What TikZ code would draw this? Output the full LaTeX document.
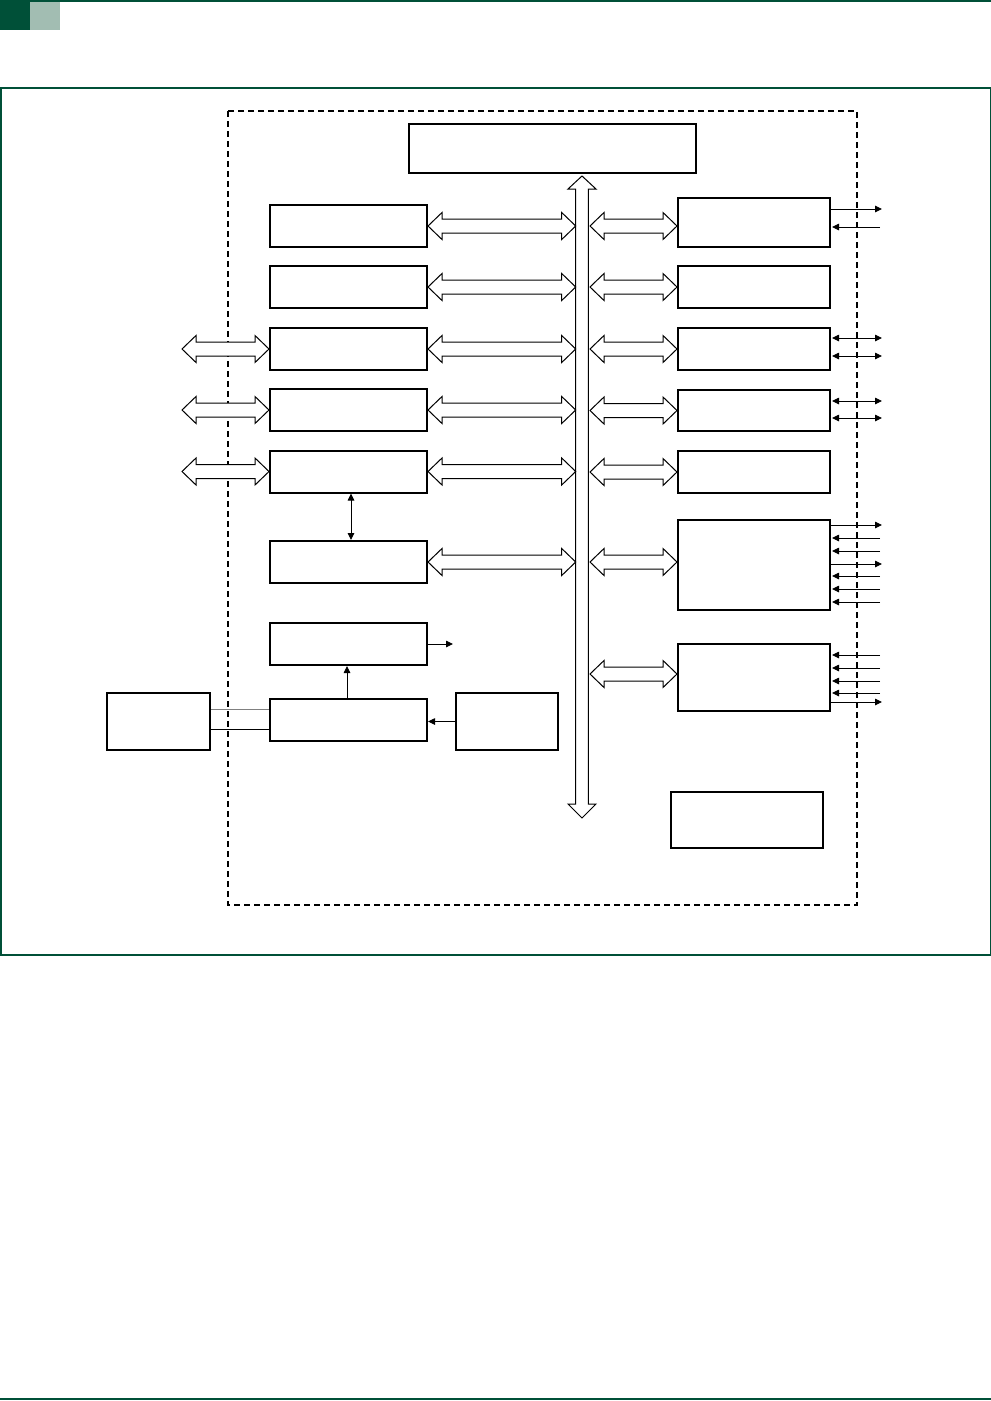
\documentclass[tikz,border=0pt]{standalone}
\usetikzlibrary{calc,arrows.meta}
\definecolor{hdark}{RGB}{0,80,56}
\definecolor{hlight}{RGB}{162,189,178}
\tikzset{
  blk/.style={draw=black, line width=2pt, fill=white, rectangle, inner sep=0pt},
  hollow/.style={draw=black, line width=1pt, fill=white, line join=miter},
  sig/.style={line width=0.9pt, -{Triangle[length=7pt,width=6.5pt]}},
  sigb/.style={line width=0.9pt, {Triangle[length=7pt,width=6.5pt]}-{Triangle[length=7pt,width=6.5pt]}},
  wire/.style={line width=0.9pt}
}
\newcommand{\hollowH}[2]{\draw[hollow] let \p1=(#1), \p2=(#2) in
  (\x1,\y1) -- (\x1+14pt,\y1+13.5pt) -- (\x1+14pt,\y1+7pt) -- (\x2-14pt,\y1+7pt) -- (\x2-14pt,\y1+13.5pt)
  -- (\x2,\y1) -- (\x2-14pt,\y1-13.5pt) -- (\x2-14pt,\y1-7pt) -- (\x1+14pt,\y1-7pt) -- (\x1+14pt,\y1-13.5pt) -- cycle;}
\begin{document}
\begin{tikzpicture}[x=1pt,y=-1pt]
\useasboundingbox (0,0) rectangle (991,1401);
% header
\fill[hdark] (0,0) rectangle (30,30);
\fill[hlight] (30,0) rectangle (60,30);
\draw[hdark, line width=1.5pt] (0,0.75) -- (991,0.75);
\draw[hdark, line width=1.5pt] (0.75,87.75) rectangle (990.25,955);
\draw[hdark, line width=2pt] (0,1399) -- (991,1399);
% dashed chip boundary
\draw[line width=1.1pt, dash pattern=on 6pt off 4pt] (228,111) rectangle (857,905);
% top box
\node[blk, minimum width=287pt, minimum height=49pt] (T) at (552.5,148.5) {};
% left column
\foreach \bx/\yc in {L1/226, L2/287, L3/349, L4/410, L5/471.5, L6/562, L7/644, L8/720}
  \node[blk, minimum width=157pt, minimum height=42pt] (\bx) at (348.5,\yc) {};
% right column
\node[blk, minimum width=152pt, minimum height=49pt] (R1) at (754,222.5) {};
\node[blk, minimum width=152pt, minimum height=42pt] (R2) at (754,287) {};
\node[blk, minimum width=152pt, minimum height=42pt] (R3) at (754,349) {};
\node[blk, minimum width=152pt, minimum height=41pt] (R4) at (754,410.5) {};
\node[blk, minimum width=152pt, minimum height=42pt] (R5) at (754,472) {};
\node[blk, minimum width=152pt, minimum height=90pt] (R6) at (754,565) {};
\node[blk, minimum width=152pt, minimum height=67pt] (R7) at (754,677.5) {};
\node[blk, minimum width=152pt, minimum height=56pt] (R8) at (747,820) {};
% outside boxes
\node[blk, minimum width=103pt, minimum height=57pt] (LX) at (158.5,721.5) {};
\node[blk, minimum width=102pt, minimum height=57pt] (RX) at (507,721.5) {};
% bus
\coordinate (busTop) at (582,176);
\coordinate (busBot) at (582,818);
\coordinate (busW) at (575.7,0);
\coordinate (busE) at (590,0);
\coordinate (extL) at (182,0);
\draw[hollow] let \p1=(busTop), \p2=(busBot) in
  (\x1,\y1) -- (\x1+14pt,\y1-13pt) -- (\x1+6.3pt,\y1-13pt) -- (\x1+6.3pt,\y2+14pt) -- (\x1+14pt,\y2+14pt)
  -- (\x2,\y2) -- (\x1-14pt,\y2+14pt) -- (\x1-6.3pt,\y2+14pt) -- (\x1-6.3pt,\y1-13pt) -- (\x1-14pt,\y1-13pt) -- cycle;
% left to bus
\foreach \bx in {L1,L2,L3,L4,L5,L6}
  \hollowH{\bx.east}{\bx.east -| busW};
% external left
\foreach \bx in {L3,L4,L5}
  \hollowH{\bx.west -| extL}{\bx.west};
% bus to right
\hollowH{busE |- L1.east}{R1.west |- L1.east};
\foreach \bx in {R2,R3,R4,R5}
  \hollowH{busE |- \bx.west}{\bx.west};
\hollowH{busE |- L6.east}{R6.west |- L6.east};
\coordinate (r7y) at (0,674);
\hollowH{busE |- r7y}{R7.west |- r7y};
% thin connections
\draw[sigb] ($(L5.south)+(2.5,0)$) -- ($(L6.north)+(2.5,0)$);
\coordinate (l7out) at (453,644);
\draw[sig] (L7.east) -- (l7out);
\draw[sig] ($(L8.north)+(-1.5,0)$) -- ($(L7.south)+(-1.5,0)$);
\draw[sig] (RX.west) -- (RX.west -| L8.east);
\draw[wire, gray] ($(LX.east)+(0,-12.5)$) -- ($(LX.east -| L8.west)+(0,-12.5)$);
\draw[wire] ($(LX.east)+(0,7.5)$) -- ($(LX.east -| L8.west)+(0,7.5)$);
% right side signals: out = arrow away, in = arrow toward box, bi = both
\newcommand{\outsig}[2]{\draw[sig] ($(#1.north east)+(0,#2)$) -- ($(#1.north east)+(51,#2)$);}
\newcommand{\insig}[2]{\draw[sig] ($(#1.north east)+(49,#2)$) -- ($(#1.north east)+(1,#2)$);}
\newcommand{\bisig}[2]{\draw[sigb] ($(#1.north east)+(1,#2)$) -- ($(#1.north east)+(51,#2)$);}
\outsig{R1}{12}
\insig{R1}{30}
\bisig{R3}{11}
\bisig{R3}{29}
\bisig{R4}{12}
\bisig{R4}{29}
\outsig{R6}{6}
\insig{R6}{19}
\insig{R6}{32}
\outsig{R6}{45}
\insig{R6}{57}
\insig{R6}{70}
\insig{R6}{83}
\insig{R7}{12}
\insig{R7}{25}
\insig{R7}{38}
\insig{R7}{50}
\outsig{R7}{59}
\end{tikzpicture}
\end{document}
